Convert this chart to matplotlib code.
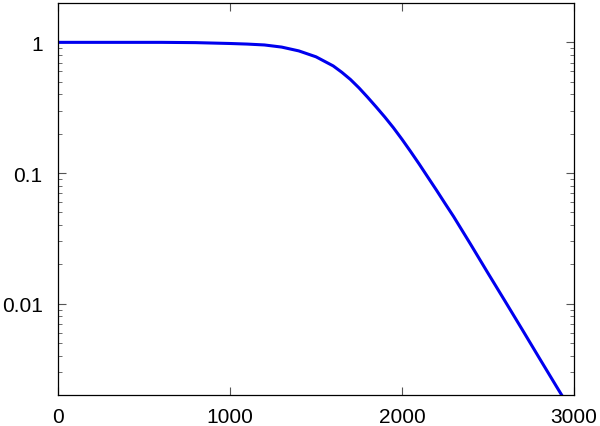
import matplotlib
matplotlib.use('Agg')
import matplotlib.pyplot as plt
from matplotlib.ticker import LogLocator, FixedLocator, FixedFormatter, NullFormatter

plt.rcParams['font.family'] = ['Liberation Sans', 'DejaVu Sans']

# values
x_vals = [0, 200, 400, 600, 800, 1000, 1100, 1200, 1300, 1400, 1500, 1600,
          1650, 1700, 1750, 1800, 1850, 1900, 1950, 2000, 2050, 2100, 2150,
          2200, 2250, 2300, 2400, 2500, 2600, 2700, 2800, 2900, 3000]
y_vals = [1.0, 1.0, 1.0, 1.0, 0.995, 0.98, 0.97, 0.955, 0.92, 0.86, 0.775,
          0.66, 0.59, 0.52, 0.448, 0.38, 0.32, 0.268, 0.222, 0.181, 0.146,
          0.117, 0.093, 0.074, 0.0585, 0.0464, 0.0283, 0.0171, 0.0104,
          0.0063, 0.0038, 0.0023, 0.0014]

x_ticks = [0, 1000, 2000, 3000]
y_ticks = [0.01, 0.1, 1]
y_tick_labels = ['0.01', '0.1', '1']

fig = plt.figure(figsize=(6, 4.27), dpi=100)
ax = fig.add_axes([0.0967, 0.0726, 0.86, 0.918])

ax.plot(x_vals, y_vals, color='#0000ee', lw=2.2)

ax.set_yscale('log')
ax.set_xlim(0, 3000)
ax.set_ylim(0.002, 2)

ax.xaxis.set_major_locator(FixedLocator(x_ticks))
ax.yaxis.set_major_locator(FixedLocator(y_ticks))
ax.yaxis.set_major_formatter(FixedFormatter(y_tick_labels))
ax.yaxis.set_minor_locator(LogLocator(base=10, subs=range(2, 10)))
ax.yaxis.set_minor_formatter(NullFormatter())

ax.tick_params(which='both', direction='in', top=True, right=True,
               labelsize=15, color='#555555')
ax.tick_params(which='major', length=6, width=0.8)
ax.tick_params(which='minor', length=3, width=0.6)
ax.tick_params(axis='x', pad=9)
ax.tick_params(axis='y', pad=11)

for s in ax.spines.values():
    s.set_linewidth(0.9)

fig.savefig('out.png', dpi=100)
